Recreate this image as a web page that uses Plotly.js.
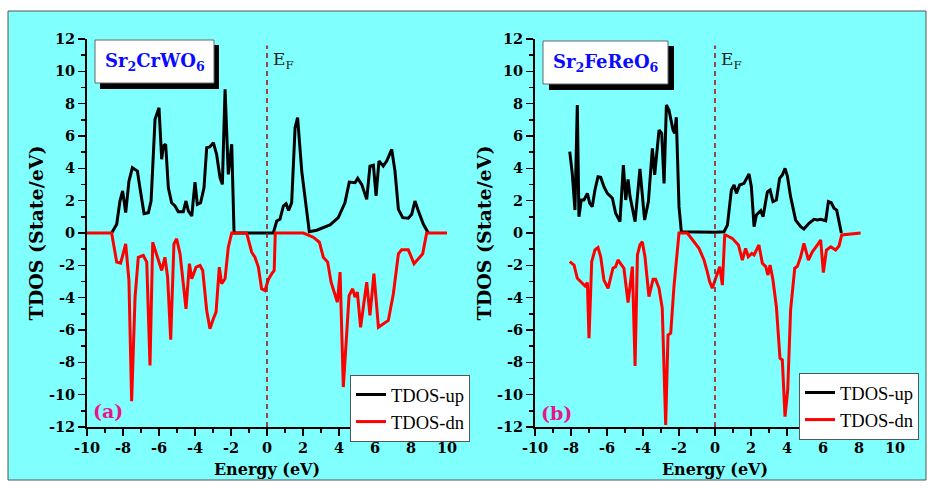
<!DOCTYPE html>
<html>
<head>
<meta charset="utf-8">
<script src="https://cdn.plot.ly/plotly-3.0.1.min.js"></script>
<style>html,body{margin:0;padding:0;background:#fff;}#chart{width:932px;height:489px;}</style>
</head>
<body>
<div id="chart"></div>
<script>
// ---- Data ----
const upA_E = [-8.63,-8.35,-8.17,-8.02,-7.85,-7.67,-7.48,-7.2,-7.06,-6.83,-6.59,-6.44,-6.22,-6.0,-5.85,-5.76,-5.63,-5.48,-5.3,-5.11,-4.93,-4.65,-4.5,-4.37,-4.18,-4.0,-3.87,-3.69,-3.5,-3.35,-3.17,-2.98,-2.8,-2.61,-2.48,-2.33,-2.15,-1.96,-1.83,0.35,0.54,0.72,0.91,1.06,1.2,1.37,1.56,1.7,1.93,2.35,2.76,3.5,3.96,4.33,4.57,4.89,5.04,5.26,5.54,5.72,5.91,6.06,6.22,6.46,6.65,6.93,7.11,7.3,7.54,7.85,8.04,8.22,8.41,8.69,8.96];
const upA_D = [0,0.54,1.98,2.6,1.26,3.2,4.04,3.83,2.8,1.2,1.26,1.98,7.03,7.75,4.56,5.38,5.49,2.8,1.87,1.67,1.32,1.32,1.98,1.36,1.05,3.15,1.77,1.87,2.8,5.28,5.32,5.59,4.87,3.42,3.01,8.89,3.63,5.49,0,0,0.74,0.85,1.67,1.81,1.4,1.87,6.51,7.13,3.83,0.08,0.17,0.5,0.95,1.87,3.15,3.11,3.38,3.01,2.08,4.14,4.2,2.29,4.45,4.14,4.45,5.17,3.83,1.46,0.95,0.91,1.16,1.98,1.36,0.54,0];
const dnA_E = [-10,-8.63,-8.35,-8.13,-7.85,-7.67,-7.52,-7.33,-7.15,-6.87,-6.68,-6.5,-6.35,-6.13,-5.85,-5.67,-5.52,-5.35,-5.17,-5.02,-4.83,-4.5,-4.31,-4.18,-3.94,-3.72,-3.57,-3.35,-3.17,-2.98,-2.83,-2.65,-2.52,-2.33,-2.15,-1.96,-1.13,-0.85,-0.67,-0.48,-0.3,-0.11,0.07,0.26,0.4,0.46,2.02,2.57,2.91,3.13,3.37,3.56,3.72,3.91,4.06,4.24,4.56,4.76,4.89,5.02,5.2,5.54,5.72,5.94,6.19,6.46,6.74,7.02,7.3,7.48,7.85,8.17,8.46,8.65,8.87,10];
const dnA_D = [0,0,-1.8,-1.87,-0.67,-2.94,-10.4,-3.97,-1.5,-1.39,-1.8,-8.2,-0.57,-1.29,-2.32,-1.5,-2.73,-6.6,-0.67,-0.36,-1.29,-4.69,-1.9,-2.83,-2.11,-2.01,-2.32,-4.79,-5.92,-5.3,-4.89,-2.11,-3.14,-2.83,-0.88,0,0,-1.19,-1.5,-2.11,-3.45,-3.56,-2.89,-2.52,-2.32,0,0,-0.26,-0.57,-1.5,-1.8,-3.04,-3.66,-4.28,-2.42,-9.53,-3.87,-3.45,-3.97,-3.66,-5.83,-3.04,-5.1,-2.52,-5.83,-5.61,-5.41,-3.76,-1.29,-1.04,-1.04,-1.9,-1.5,-1.29,0,0];
const upB_E = [-8.07,-7.93,-7.78,-7.65,-7.56,-7.43,-7.28,-7.09,-6.96,-6.82,-6.67,-6.5,-6.35,-6.17,-5.98,-5.7,-5.52,-5.28,-5.09,-4.96,-4.83,-4.72,-4.44,-4.17,-3.91,-3.7,-3.48,-3.35,-3.11,-2.96,-2.83,-2.7,-2.56,-2.33,-2.24,-2.15,-2.0,-1.87,0.02,0.5,0.69,0.91,1.06,1.19,1.37,1.61,1.89,2.02,2.17,2.3,2.54,2.67,2.91,3.06,3.22,3.41,3.59,3.74,3.89,4.02,4.2,4.48,4.76,4.94,5.22,5.5,5.69,5.87,6.15,6.3,6.46,6.61,6.76,7.02];
const upB_D = [5.03,3.69,1.42,7.92,1.01,2.04,2.04,2.45,1.84,1.63,2.66,3.48,3.44,2.86,2.45,2.15,1.22,0.7,4.2,2.04,3.32,2.25,0.7,3.96,0.8,1.94,5.24,3.59,6.37,6.17,3.07,7.92,7.61,6.37,6.17,7.16,1.63,0.08,0.04,0.08,0.49,2.66,2.97,2.45,2.97,3.07,3.65,2.86,0.39,1.11,1.38,1.01,2.55,2.66,1.94,2.04,3.38,3.59,4.0,3.52,2.25,0.8,0.39,0.25,0.6,0.85,0.8,0.85,0.76,1.94,1.87,1.53,1.42,0];
const dnB_E = [-8.07,-7.83,-7.65,-7.46,-7.22,-7.09,-7.0,-6.85,-6.67,-6.5,-6.35,-6.17,-5.94,-5.67,-5.52,-5.39,-5.2,-5.06,-4.83,-4.59,-4.44,-4.31,-4.17,-4.04,-3.89,-3.67,-3.44,-3.3,-3.11,-2.93,-2.74,-2.61,-2.46,-2.28,-2.0,-1.54,-0.89,-0.61,-0.43,-0.3,-0.15,0.04,0.26,0.41,0.54,0.59,0.96,1.3,1.52,1.7,1.85,2.04,2.17,2.44,2.63,2.82,2.94,3.06,3.22,3.41,3.61,3.74,3.89,4.04,4.2,4.43,4.57,4.76,4.94,5.19,5.41,5.69,5.87,6.02,6.19,6.43,6.7,6.89,7.04,8.09];
const dnB_D = [-1.77,-1.98,-2.8,-3.01,-3.28,-3.07,-6.51,-1.77,-1.05,-0.9,-1.47,-2.91,-3.42,-2.18,-2.08,-1.67,-1.98,-2.18,-4.31,-2.08,-8.23,-1.36,-0.74,-0.54,-1.47,-3.94,-2.86,-2.86,-3.42,-4.66,-11.87,-6.31,-6.2,-3.32,0,0,-0.95,-1.67,-2.39,-3.01,-3.42,-2.8,-2.08,-3.22,-0.12,-0.12,-0.33,-0.74,-1.67,-0.95,-1.47,-1.26,-1.36,-0.74,-1.87,-2.08,-2.6,-1.98,-2.91,-4.56,-7.75,-7.85,-11.36,-9.71,-4.76,-2.18,-2.08,-1.47,-0.64,-1.67,-1.16,-0.74,-0.43,-2.45,-1.05,-0.85,-1.05,-0.8,-0.12,0];

const seriesNames = ['TDOS-up','TDOS-dn'];
const compounds = ['Sr<sub>2</sub>CrWO<sub>6</sub>','Sr<sub>2</sub>FeReO<sub>6</sub>'];
const panelLabels = ['(a)','(b)'];
const xTickVals = [-10,-8,-6,-4,-2,0,2,4,6,8,10];
const xTickText = ['-10','-8','-6','-4','-2','0','2','4','6','8','10'];
const yTickVals = [-12,-10,-8,-6,-4,-2,0,2,4,6,8,10,12];
const yTickText = ['-12','-10','-8','-6','-4','-2','0','2','4','6','8','10','12'];
const fermiE = 0;
const xTitle = 'Energy (eV)';
const yTitle = 'TDOS (State/eV)';

// ---- Layout geometry (pixels) ----
const W = 932, H = 489;
const mL = 87, mR = 0, mT = 39, mB = 62;
const PW = W - mL - mR, PH = H - mT - mB;
const px = v => (v - mL) / PW;
const py = v => (H - mB - v) / PH;

const lineW = 3;
const traces = [
  {x: upA_E, y: upA_D, xaxis:'x', yaxis:'y', mode:'lines', name: seriesNames[0], line:{color:'#000', width:lineW}, legend:'legend'},
  {x: dnA_E, y: dnA_D, xaxis:'x', yaxis:'y', mode:'lines', name: seriesNames[1], line:{color:'#ff0000', width:lineW}, legend:'legend'},
  {x: upB_E, y: upB_D, xaxis:'x2', yaxis:'y2', mode:'lines', name: seriesNames[0], line:{color:'#000', width:lineW}, legend:'legend2'},
  {x: dnB_E, y: dnB_D, xaxis:'x2', yaxis:'y2', mode:'lines', name: seriesNames[1], line:{color:'#ff0000', width:lineW}, legend:'legend2'}
];

const tickFont = {family:'DejaVu Serif', size:14.5, color:'#000', weight:'bold'};
const xTitleFont = {family:'DejaVu Serif', size:16, color:'#000', weight:'bold'};
const yTitleFont = {family:'DejaVu Serif', size:19, color:'#000', weight:'bold'};
function xax(dom, anchor){
  return {domain: dom, anchor: anchor, range:[-10,10], showgrid:false, zeroline:false,
    showline:true, linecolor:'#000', linewidth:2, ticks:'outside', ticklen:7, tickwidth:1.5, tickcolor:'#000',
    tickvals:xTickVals, ticktext:xTickText, tickfont:tickFont,
    minor:{dtick:1, tick0:0, ticks:'outside', ticklen:4, tickwidth:1.5, tickcolor:'#000', showgrid:false},
    title:{text:xTitle, font:xTitleFont, standoff:8}};
}
function yax(anchor){
  return {domain:[0,1], anchor: anchor, range:[-12,12], showgrid:false, zeroline:false,
    showline:true, linecolor:'#000', linewidth:2, ticks:'outside', ticklen:7, tickwidth:1.5, tickcolor:'#000',
    tickvals:yTickVals, ticktext:yTickText, tickfont:tickFont,
    minor:{dtick:1, tick0:0, ticks:'outside', ticklen:4, tickwidth:1.5, tickcolor:'#000', showgrid:false},
    title:{text:yTitle, font:yTitleFont, standoff:0}};
}

const shapes = [
  {type:'rect', xref:'paper', yref:'paper', x0:px(8), x1:px(926), y0:py(480), y1:py(11),
   fillcolor:'#80ffff', line:{color:'#555', width:1}, layer:'below'},
  // title boxes: shadow + white box
  {type:'rect', xref:'paper', yref:'paper', x0:px(100), x1:px(219), y0:py(89), y1:py(45), fillcolor:'#000', line:{width:0}, layer:'above'},
  {type:'rect', xref:'paper', yref:'paper', x0:px(95), x1:px(214), y0:py(83), y1:py(40), fillcolor:'#fff', line:{color:'#666', width:1}, layer:'above'},
  {type:'rect', xref:'paper', yref:'paper', x0:px(549), x1:px(674), y0:py(90), y1:py(46), fillcolor:'#000', line:{width:0}, layer:'above'},
  {type:'rect', xref:'paper', yref:'paper', x0:px(543), x1:px(668), y0:py(84), y1:py(41), fillcolor:'#fff', line:{color:'#666', width:1}, layer:'above'},
  // Fermi level
  {type:'line', xref:'x', yref:'y', x0:fermiE, x1:fermiE, y0:-12, y1:11.6, line:{color:'#a01818', width:1.6, dash:'5px,4px'}},
  {type:'line', xref:'x2', yref:'y2', x0:fermiE, x1:fermiE, y0:-12, y1:11.6, line:{color:'#a01818', width:1.6, dash:'5px,4px'}}
];

const annFont = {family:'DejaVu Serif', size:18, color:'#0a0aff', weight:'bold'};
const efFont = {family:'DejaVu Serif', size:17, color:'#222'};
const lblFont = {family:'DejaVu Serif', size:19, color:'#e8168c', weight:'bold'};
const annotations = [
  {xref:'paper', yref:'paper', x:px(154.5), y:py(62), text:compounds[0], showarrow:false, font:annFont, xanchor:'center', yanchor:'middle'},
  {xref:'paper', yref:'paper', x:px(605.5), y:py(63), text:compounds[1], showarrow:false, font:annFont, xanchor:'center', yanchor:'middle'},
  {xref:'x', yref:'paper', x:fermiE, xshift:4, y:py(60), text:'E<sub>F</sub>', showarrow:false, xanchor:'left', yanchor:'middle', font:efFont},
  {xref:'x2', yref:'paper', x:fermiE, xshift:4, y:py(60), text:'E<sub>F</sub>', showarrow:false, xanchor:'left', yanchor:'middle', font:efFont},
  {xref:'paper', yref:'paper', x:px(108), y:py(411), text:panelLabels[0], showarrow:false, font:lblFont, xanchor:'center', yanchor:'middle'},
  {xref:'paper', yref:'paper', x:px(556), y:py(413), text:panelLabels[1], showarrow:false, font:lblFont, xanchor:'center', yanchor:'middle'}
];

const legFont = {family:'Liberation Serif', size:18.5, color:'#000'};
const layout = {
  width: W, height: H,
  margin:{l:mL, r:mR, t:mT, b:mB},
  paper_bgcolor:'#ffffff', plot_bgcolor:'rgba(0,0,0,0)',
  xaxis: xax([0, px(447)], 'y'),
  yaxis: yax('x'),
  xaxis2: xax([px(535), px(895)], 'y2'),
  yaxis2: yax('x2'),
  showlegend:true,
  legend:{x:px(350), y:py(375), xanchor:'left', yanchor:'top', bgcolor:'#fff', bordercolor:'#555', borderwidth:1, font:legFont, tracegroupgap:0},
  legend2:{x:px(799), y:py(373), xanchor:'left', yanchor:'top', bgcolor:'#fff', bordercolor:'#555', borderwidth:1, font:legFont, tracegroupgap:0},
  shapes: shapes,
  annotations: annotations
};

Plotly.newPlot('chart', traces, layout, {displayModeBar:false, staticPlot:true});
</script>
</body>
</html>
